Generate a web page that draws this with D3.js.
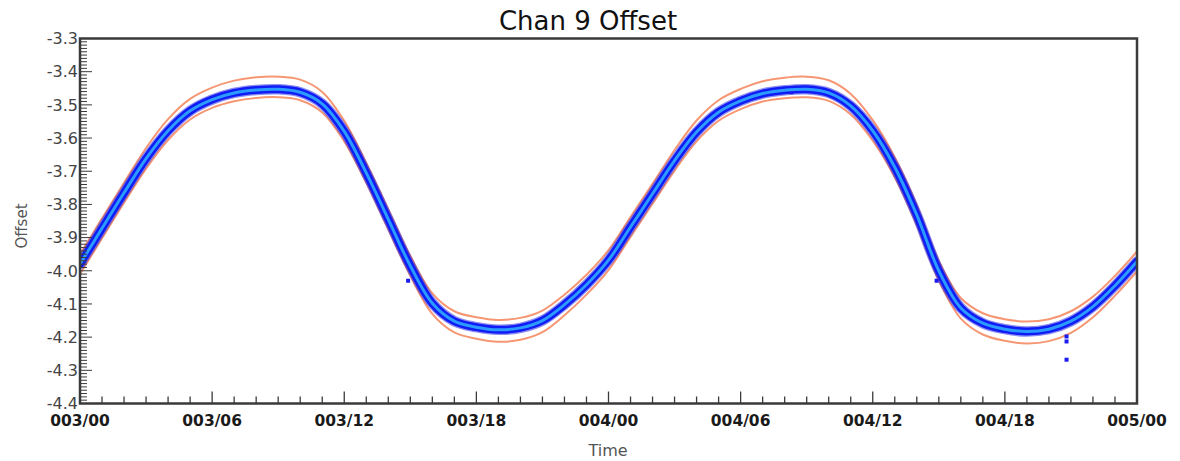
<!DOCTYPE html>
<html>
<head>
<meta charset="utf-8">
<script src="https://cdn.jsdelivr.net/npm/d3@7"></script>
<style>
  html, body { margin: 0; padding: 0; background: #fff; }
  svg { display: block; }
</style>
</head>
<body>
<svg id="chart" width="1180" height="461"></svg>
<script>
// ---- data (hours since 003/00) ----
const hours = d3.range(0, 49);
const fitValues = [
  -3.980, -3.872, -3.765, -3.662, -3.578, -3.518, -3.484, -3.464, -3.455, -3.453,
  -3.462, -3.497, -3.580, -3.705, -3.845, -3.985, -4.098, -4.152, -4.170, -4.178,
  -4.172, -4.150, -4.102, -4.042, -3.968, -3.868, -3.768, -3.668, -3.582, -3.522,
  -3.488, -3.466, -3.456, -3.453, -3.464, -3.503, -3.578, -3.688, -3.832, -4.000,
  -4.112, -4.158, -4.176, -4.183, -4.176, -4.152, -4.108, -4.045, -3.972
];
const upperValues = [
  -3.950, -3.842, -3.735, -3.630, -3.543, -3.482, -3.448, -3.427, -3.417, -3.415,
  -3.424, -3.461, -3.548, -3.675, -3.815, -3.955, -4.068, -4.122, -4.140, -4.148,
  -4.142, -4.120, -4.072, -4.012, -3.938, -3.838, -3.738, -3.636, -3.547, -3.486,
  -3.452, -3.429, -3.418, -3.415, -3.426, -3.467, -3.546, -3.658, -3.802, -3.970,
  -4.082, -4.128, -4.146, -4.153, -4.146, -4.122, -4.078, -4.015, -3.942
];
const lowerValues = [
  -4.010, -3.902, -3.795, -3.692, -3.606, -3.544, -3.509, -3.489, -3.479, -3.477,
  -3.486, -3.523, -3.610, -3.735, -3.875, -4.015, -4.130, -4.186, -4.205, -4.214,
  -4.208, -4.185, -4.134, -4.072, -3.998, -3.898, -3.798, -3.698, -3.610, -3.548,
  -3.513, -3.490, -3.480, -3.477, -3.488, -3.529, -3.608, -3.718, -3.862, -4.030,
  -4.144, -4.192, -4.211, -4.219, -4.212, -4.187, -4.140, -4.075, -4.002
];
const strayHours  = [0.0, 14.7, 14.9, 32.3, 38.7, 38.9, 44.8, 44.8, 44.8, 48.0];
const strayValues = [-3.978, -3.945, -4.030, -3.462, -3.945, -4.030, -4.198, -4.213, -4.268, -3.972];

const xTickHours  = [0, 6, 12, 18, 24, 30, 36, 42, 48];
const xTickLabels = ["003/00", "003/06", "003/12", "003/18", "004/00", "004/06", "004/12", "004/18", "005/00"];
const yTicks = [-3.3, -3.4, -3.5, -3.6, -3.7, -3.8, -3.9, -4.0, -4.1, -4.2, -4.3, -4.4];

// ---- layout ----
const svg = d3.select("#chart");
const L = 80, R = 1137, T = 38.5, B = 403.5;
const x = d3.scaleLinear().domain([0, 48]).range([L, R]);
const y = d3.scaleLinear().domain([-4.4, -3.3]).range([B, T]);

const axisColor = "#3a3a3a";
const plot = svg.append("g");

svg.append("defs").append("clipPath").attr("id", "clip")
  .append("rect").attr("x", L).attr("y", T).attr("width", R - L).attr("height", B - T);

const series = (vals) => hours.map((h, i) => [h, vals[i]]);
const line = d3.line().x(d => x(d[0])).y(d => y(d[1])).curve(d3.curveCatmullRom.alpha(0.5));

const g = plot.append("g").attr("clip-path", "url(#clip)");

// envelope lines
[upperValues, lowerValues].forEach(vals => {
  g.append("path").datum(series(vals)).attr("d", line)
    .attr("fill", "none").attr("stroke", "#f5855a").attr("stroke-width", 2).attr("stroke-opacity", 0.85);
});
// data band
g.append("path").datum(series(fitValues)).attr("d", line)
  .attr("fill", "none").attr("stroke", "#1c1ce0").attr("stroke-width", 10.5).attr("stroke-linecap", "round").attr("stroke-opacity", 0.5);
g.append("path").datum(series(fitValues)).attr("d", line)
  .attr("fill", "none").attr("stroke", "#0f1cf5").attr("stroke-width", 8).attr("stroke-linecap", "round");
// stray points
g.selectAll("rect.pt").data(strayHours.map((h, i) => [h, strayValues[i]])).enter()
  .append("rect").attr("class", "pt")
  .attr("x", d => x(d[0]) - 2).attr("y", d => y(d[1]) - 2)
  .attr("width", 4).attr("height", 4).attr("fill", "#1a1af0");
// fit line
g.append("path").datum(series(fitValues)).attr("d", line)
  .attr("fill", "none").attr("stroke", "#2c9bff").attr("stroke-width", 3);

// ---- axes (inward ticks) ----
const ax = svg.append("g").attr("stroke", axisColor);
d3.range(0, 49).forEach(h => {
  const major = h % 6 === 0;
  ax.append("line").attr("x1", x(h)).attr("x2", x(h)).attr("y1", B).attr("y2", B - (major ? 12 : 7)).attr("stroke-width", 1.3);
});
d3.range(0, 111).forEach(k => {
  const v = -4.4 + k * 0.01;
  const major = k % 10 === 0;
  ax.append("line").attr("x1", L).attr("x2", L + (major ? 12 : 7)).attr("y1", y(v)).attr("y2", y(v)).attr("stroke-width", 1);
});

// frame
svg.append("rect").attr("x", L).attr("y", T).attr("width", R - L).attr("height", B - T)
  .attr("fill", "none").attr("stroke", axisColor).attr("stroke-width", 2.5);

// x tick labels
svg.append("g").selectAll("text").data(xTickHours).enter().append("text")
  .attr("x", d => x(d)).attr("y", 426)
  .attr("text-anchor", "middle")
  .attr("font-family", "DejaVu Sans").attr("font-weight", "bold").attr("font-size", 15.5)
  .attr("fill", "#1a1a1a")
  .text((d, i) => xTickLabels[i]);

// y tick labels
svg.append("g").selectAll("text").data(yTicks).enter().append("text")
  .attr("x", 78).attr("y", d => y(d)).attr("dy", "0.36em")
  .attr("text-anchor", "end")
  .attr("font-family", "DejaVu Sans").attr("font-size", 16)
  .attr("fill", "#444")
  .text(d => d.toFixed(1));

// title & axis titles
svg.append("text").attr("x", 588).attr("y", 30).attr("text-anchor", "middle")
  .attr("font-family", "DejaVu Sans").attr("font-size", 26).attr("fill", "#111").text("Chan 9 Offset");
svg.append("text").attr("x", 608).attr("y", 456).attr("text-anchor", "middle")
  .attr("font-family", "DejaVu Sans").attr("font-size", 16).attr("fill", "#555").text("Time");
svg.append("text").attr("transform", "translate(27,226) rotate(-90)").attr("text-anchor", "middle")
  .attr("font-family", "DejaVu Sans").attr("font-size", 15).attr("fill", "#555").text("Offset");
</script>
</body>
</html>
